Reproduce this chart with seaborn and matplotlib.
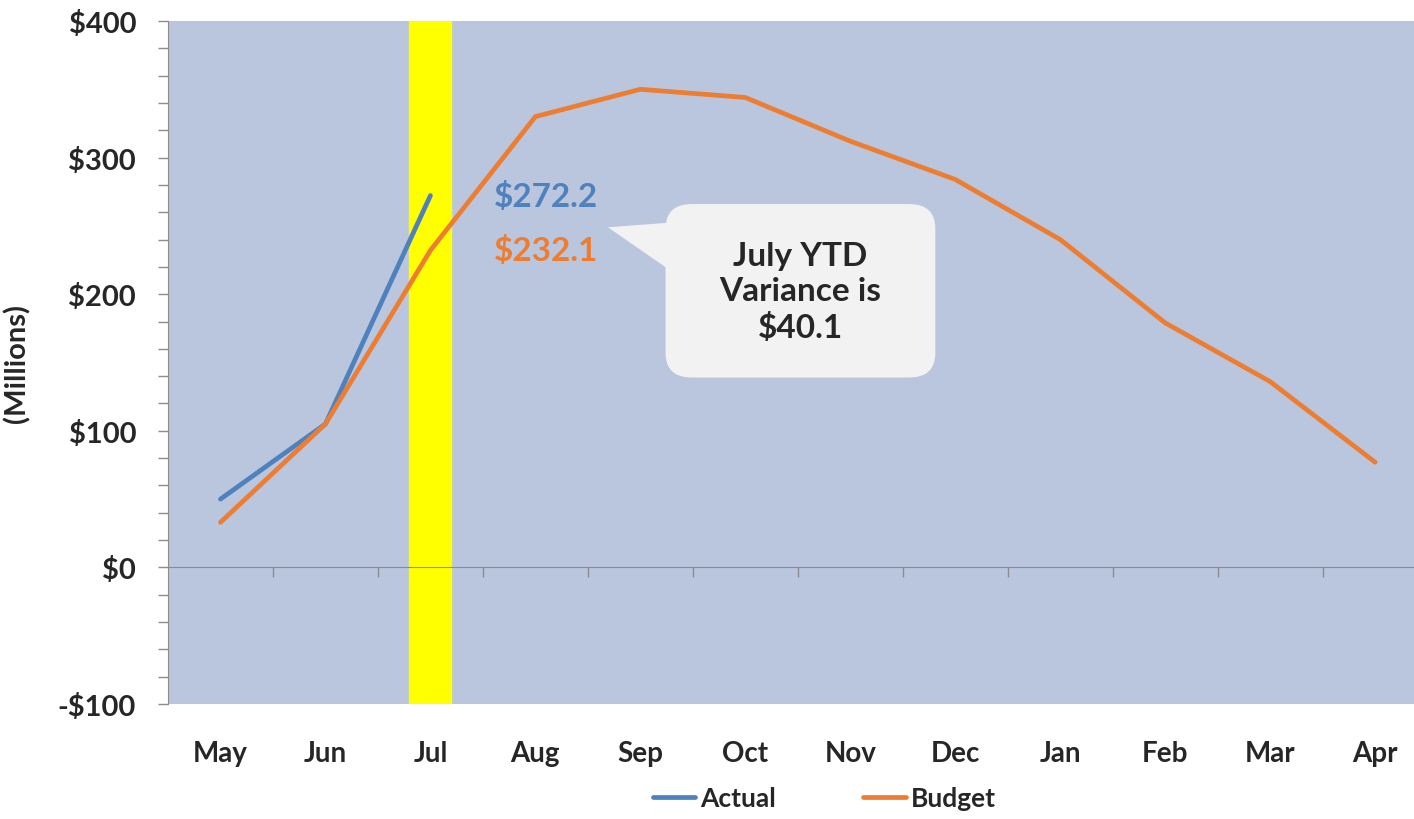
import pandas as pd
import numpy as np
import matplotlib.pyplot as plt
import seaborn as sns
from matplotlib.patches import FancyBboxPatch
from matplotlib.ticker import FuncFormatter, MultipleLocator, FixedLocator

sns.set_style('white')
plt.rcParams['font.family'] = ['Lato', 'DejaVu Sans']
plt.rcParams['font.weight'] = 'bold'

months = ['May', 'Jun', 'Jul', 'Aug', 'Sep', 'Oct', 'Nov', 'Dec', 'Jan', 'Feb', 'Mar', 'Apr']
actual = [50.0, 105.0, 272.2]
budget = [33.0, 105.0, 232.1, 330.0, 350.0, 344.0, 312.0, 284.0, 240.0, 179.0, 136.0, 77.0]
highlight_month = 'Jul'

blue = '#4F81BD'
orange = '#ED7D31'

df = pd.concat([
    pd.DataFrame({'Month': months[:len(actual)], 'Value': actual, 'Series': 'Actual'}),
    pd.DataFrame({'Month': months, 'Value': budget, 'Series': 'Budget'}),
])
df['pos'] = df['Month'].map({m: i for i, m in enumerate(months)})

fig = plt.figure(figsize=(14.14, 8.2), dpi=100)
ax = fig.add_axes([168 / 1414, 1 - 705 / 820, (1414 - 168) / 1414, (705 - 22) / 820])
ax.set_facecolor('#BAC6DE')

# highlighted month band
hi = months.index(highlight_month)
ax.axvspan(hi - 0.2, hi + 0.2, color='#FFFF00', zorder=1)

sns.lineplot(data=df, x='pos', y='Value', hue='Series', palette={'Actual': blue, 'Budget': orange},
             linewidth=3.4, ax=ax, legend=False, zorder=3)

ax.set_xlim(-0.5, 11.37)
ax.set_ylim(-100, 400)

# axes styling
for s in ['top', 'right']:
    ax.spines[s].set_visible(False)
ax.spines['left'].set_color('#8C8C8C')
ax.spines['bottom'].set_color('#8C8C8C')
ax.spines['bottom'].set_position(('data', 0))
ax.spines['bottom'].set_zorder(2)

ax.yaxis.set_major_locator(MultipleLocator(100))
ax.yaxis.set_minor_locator(MultipleLocator(20))
ax.yaxis.set_major_formatter(FuncFormatter(lambda v, p: f'-${abs(v):.0f}' if v < 0 else f'${v:.0f}'))
ax.tick_params(axis='y', which='both', direction='out', length=7, width=1, color='#8C8C8C', left=True)
ax.tick_params(axis='y', which='major', labelsize=21, pad=16)

ax.set_xticks(range(len(months)))
ax.set_xticklabels(months)
ax.xaxis.set_minor_locator(FixedLocator(np.arange(0.5, len(months), 1.0)))
ax.tick_params(axis='x', which='major', length=0, labelsize=20, pad=124)
ax.tick_params(axis='x', which='minor', direction='out', length=7, width=1, color='#8C8C8C', bottom=True)
for lbl in ax.get_xticklabels() + ax.get_yticklabels():
    lbl.set_fontweight('bold')

ax.set_xlabel('')
ax.set_ylabel('(Millions)', fontsize=21, fontweight='bold')
ax.yaxis.set_label_coords(-0.11, 0.5)

# value labels for the highlighted month
ax.text(hi + 0.6, actual[hi], f'${actual[hi]:.1f}', color=blue, fontsize=24, fontweight='bold',
        ha='left', va='center', zorder=5)
ax.text(hi + 0.6, budget[hi], f'${budget[hi]:.1f}', color=orange, fontsize=24, fontweight='bold',
        ha='left', va='center', zorder=5)

# callout
variance = actual[hi] - budget[hi]
box_fc = '#F2F2F2'
ax.annotate('', xy=(3.69, 249), xytext=(4.6, 230),
            arrowprops=dict(arrowstyle='wedge,tail_width=4.2', mutation_scale=12, fc=box_fc, ec='none',
                            shrinkA=0, shrinkB=0, patchA=None),
            zorder=4)
ax.add_patch(FancyBboxPatch((4.24, 139), 2.57, 127, boxstyle='round,pad=0,rounding_size=0.25',
                            mutation_aspect=72, fc=box_fc, ec='none', zorder=4))
ax.text(5.525, 202, f'July YTD\nVariance is\n${variance:.1f}', fontsize=24, fontweight='bold',
        ha='center', va='center', linespacing=1.25, zorder=5)

# legend
handles = [plt.Line2D([], [], color=blue, lw=3.4), plt.Line2D([], [], color=orange, lw=3.4)]
fig.legend(handles, ['Actual', 'Budget'], loc='center', bbox_to_anchor=(0.583, 0.025), ncol=2,
           frameon=False, handlelength=1.6, handletextpad=0.2, columnspacing=3.3,
           prop={'weight': 'bold', 'size': 19})

fig.savefig('out.png', dpi=100)
